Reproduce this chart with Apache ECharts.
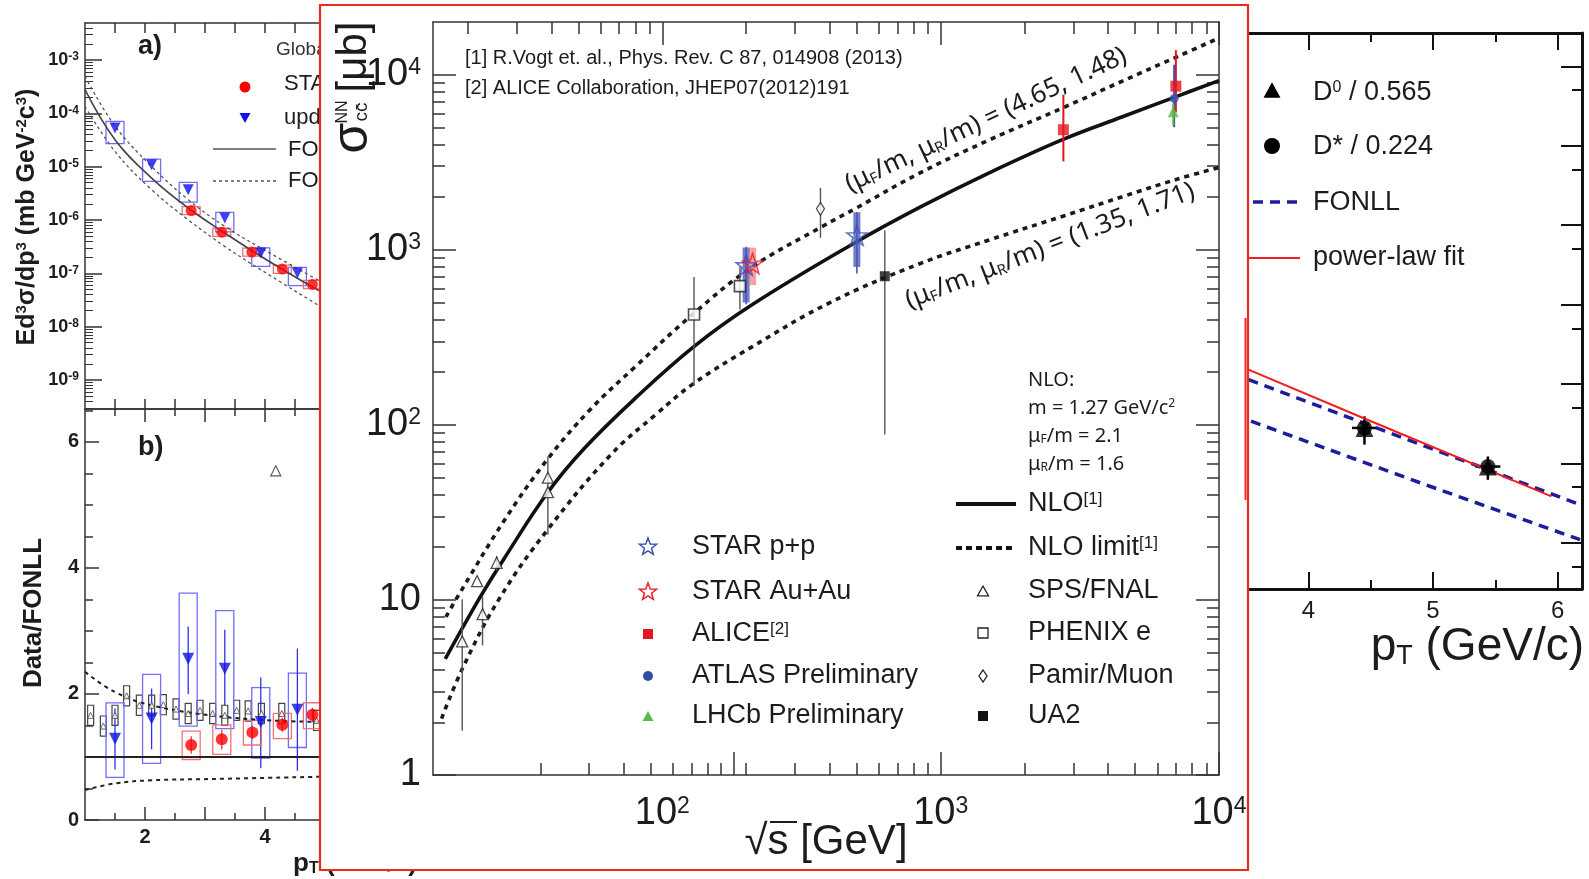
<!DOCTYPE html>
<html><head><meta charset="utf-8"><title>charm cross section</title>
<script src="https://cdn.jsdelivr.net/npm/echarts@6.0.0/dist/echarts.min.js"></script>
<style>html,body{margin:0;padding:0;background:#fff;overflow:hidden}#chart{width:1589px;height:879px}</style>
</head><body><div id="chart"></div>
<script>
// ================= MAIN CHART DATA (sqrt(s) [GeV], sigma [ub]) =================
const nloCentral = [[16.6,4.6],[22.1,10.3],[27,17.2],[38.8,41.2],[52.6,73.7],[80,142],[129.5,279],[210,485],[496,1105],[840,1746],[1500,2760],[2767,4285],[4500,5750],[7100,7550],[10000,9250]];
const nloUpper   = [[16.7,8.0],[18.3,10.3],[27,28.3],[38.8,64],[55,122],[80,215],[129.5,432],[210,796],[376,1360],[496,1726],[840,2740],[1500,4250],[2767,6500],[4500,9200],[7100,12700],[10000,16200]];
const nloLower   = [[16.1,2.1],[19.2,4.1],[25.9,10.1],[38.8,25.3],[65.6,68],[95,115],[129.5,172],[210,279],[400,499],[840,832],[1500,1140],[2767,1560],[4500,2010],[7100,2535],[10000,2950]];
// [sqrt(s), sigma, low, high]
const spsFnal   = [[19.1,5.8,1.79,10.1],[21.6,12.8,12.8,12.8],[22.6,8.3,5.5,10.4],[25.4,16.3,14.7,17.8],[38.8,49.9,49.9,49.9],[38.8,41.3,23.6,66]];
const phenixE   = [[130,427,167,700],[190,620,456,798]];
const starPP    = [[200,816,500,1030],[500,1210,798,1637]];
const starPPstat= [[200,816,489,1042],[500,1210,731,1637]];
const starAuAu  = [[211,834,628,1028]];
const pamirMuon = [[370,1714,1172,2259]];
const ua2       = [[630,706,88,1291]];
const alice     = [[2760,4850,3200,7680],[7000,8600,6095,13800]];
const atlas     = [[6900,7310,5010,11400]];
const lhcb      = [[6850,6150,5120,6800]];
// main axis ticks / labels
const xLabelValues = [100,1000,10000];
const xMajorTopTicks = [100,1000,10000];
const xMinorTopTicks = [20,30,40,50,60,70,80,90,200,300,400,500,600,700,800,900,2000,3000,4000,5000,6000,7000,8000,9000];
const xMajorBottomTicks = [180,1000,10000];
const xMinorBottomTicks = [36.5,54.5,72.8,91,108.7,127.3,145.3,162.8,200,300,400,500,600,700,800,900,2000,3000,4000,5000,6000,7000,8000,9000];
const yMajorTicks = [1,10,100,1000,10000];
const yMinorTicks = [2,3,4,5,6,7,8,9,20,30,40,50,60,70,80,90,200,300,400,500,600,700,800,900,2000,3000,4000,5000,6000,7000,8000,9000];

// ================= LEFT PANEL a) =================
const aFonll   = [[1,2.77e-4],[1.5,3.2e-5],[2.11,6.1e-6],[2.72,1.68e-6],[3.33,5.7e-7],[3.93,2.09e-7],[4.54,8.1e-8],[4.92,4.6e-8]];
const aFonllHi = [[1,4.93e-4],[1.5,5.8e-5],[2.11,1.01e-5],[2.72,2.4e-6],[3.33,7.6e-7],[3.93,3.0e-7],[4.92,7.1e-8]];
const aFonllLo = [[1,1.35e-4],[1.5,1.93e-5],[2.11,3.7e-6],[2.72,1.01e-6],[3.33,3.2e-7],[3.93,1.17e-7],[4.92,2.4e-8]];
const aBlue = [[1.5,5.3e-5,2.7e-5,7.06e-5],[2.11,1.09e-5,5.3e-6,1.39e-5],[2.72,3.7e-6,2.17e-6,5.07e-6],[3.33,1.09e-6,6.0e-7,1.39e-6],[3.93,2.4e-7,1.35e-7,2.99e-7],[4.54,1.01e-7,5.86e-8,1.29e-7]];
const aRed  = [[2.77,1.5e-6,1.26e-6,1.78e-6],[3.28,5.9e-7,4.95e-7,7.0e-7],[3.78,2.5e-7,2.1e-7,2.97e-7],[4.29,1.2e-7,1.0e-7,1.43e-7],[4.79,6.2e-8,5.2e-8,7.4e-8]];
const aXTicks = [1.5,2,2.5,3,3.5,4,4.5];
const aYLabels = [1e-9,1e-8,1e-7,1e-6,1e-5,1e-4,1e-3];

// ================= LEFT PANEL b) =================
const bUnity   = [[1,1],[4.917,1]];
const bFonllHi = [[1,2.35],[1.5,2.03],[2.11,1.82],[3.1,1.66],[4.1,1.58],[4.92,1.556]];
const bFonllLo = [[1,0.475],[1.5,0.58],[2.11,0.63],[3.1,0.65],[4.92,0.686]];
// [pT, value, boxLow, boxHigh, errLow, errHigh]
const bBlue = [[1.5,1.29,0.676,1.857,0.80,1.77],[2.11,1.61,0.897,2.31,1.12,2.085],[2.72,2.56,1.49,3.6,2.0,3.07],[3.33,2.4,1.45,3.32,1.82,3.02],[3.93,1.556,0.98,2.1,0.82,2.26],[4.54,1.75,1.15,2.33,0.78,2.72]];
const bRed  = [[2.77,1.19,0.96,1.41,1.05,1.33],[3.28,1.28,1.04,1.51,1.12,1.43],[3.79,1.39,1.19,1.58,1.28,1.5],[4.29,1.51,1.29,1.69,1.4,1.62],[4.79,1.67,1.45,1.86,1.55,1.78]];
const bGray = [[1.094,1.66,1.5,1.82],[1.306,1.49,1.33,1.65],[1.5,1.66,1.5,1.82],[1.694,1.97,1.81,2.13],[1.906,1.82,1.66,1.98],[2.111,1.82,1.66,1.98],[2.306,1.83,1.67,1.99],[2.517,1.76,1.6,1.92],[2.72,1.69,1.53,1.85],[2.917,1.74,1.58,1.9],[3.128,1.69,1.53,1.85],[3.33,1.66,1.5,1.82],[3.528,1.74,1.58,1.9],[3.72,1.73,1.57,1.89],[3.94,1.69,1.53,1.85],[4.28,1.69,1.53,1.85],[4.86,1.58,1.42,1.74]];
const bOutlier = [[4.18,5.54]];
const bXMajor = [2,3,4], bXMinor = [1.5,2.5,3.5,4.5], bXLabels = [2,4];
const bYMajor = [0,2,4,6], bYMinor = [0.5,1,1.5,2.5,3,3.5,4.5,5,5.5,6.5];

// ================= RIGHT PANEL =================
const rPowerLaw = [[3.52,1.51e-4],[4.44,3.72e-5],[5.95,3.83e-6]];
const rFonllHi  = [[3.52,1.13e-4],[5.44,8.3e-6],[6.18,3.0e-6]];
const rFonllLo  = [[3.54,3.39e-5],[4.98,5.1e-6],[6.18,1.09e-6]];
const rPoints   = [[4.45,2.79e-5,1.72e-5,3.9e-5],[5.44,9.1e-6,6.2e-6,1.22e-5]];
const rXMajor = [4,5,6], rXMinor = [4.5,5.5], rXLabels = [4,5,6];
const rYMajor = [1e-6,1e-5,1e-4,1e-3,1e-2,1e-1,1];
const rYMinor = [5e-7,5e-6,5e-5,5e-4,5e-3,5e-2,5e-1];

// ================= helpers =================
const FONT = '"Liberation Sans", Arial, Helvetica, sans-serif';
const FONT2 = '"Noto Sans", "Open Sans", sans-serif';
const RED = '#ec2a1e';
const AX = '#333';
const INK = '#1c1c1c';

function decadeMinors(e0, e1, lo, hi) {
  const out = [];
  for (let e = e0; e <= e1; e++) for (let k = 2; k <= 9; k++) { const v = k * Math.pow(10, e); if (v > lo && v < hi) out.push(v); }
  return out;
}
function pow10Label(v) {
  const e = Math.round(Math.log10(v));
  if (e === 0) return '1';
  if (e === 1) return '10';
  return '10{s|' + e + '}';
}
function axis(o) {
  return {
    gridIndex: o.grid, type: o.type || 'value', min: o.min, max: o.max, position: o.pos, logBase: 10,
    z: o.z || 0, silent: true, scale: true,
    axisLine: {show: !!o.line, onZero: false, lineStyle: {color: o.color || AX, width: o.lw || 1.5}},
    axisTick: o.ticks ? {show: true, inside: true, length: o.tlen || 10, customValues: o.ticks,
      lineStyle: {color: o.color || AX, width: o.tw || 1.5}} : {show: false},
    axisLabel: o.labels ? Object.assign({show: true, customValues: o.labels}, o.labelStyle) : {show: false},
    splitLine: {show: false}, minorTick: {show: false}, splitArea: {show: false}
  };
}
const mainLabel = (margin) => ({
  margin, fontSize: 38, fontFamily: FONT, color: INK, formatter: pow10Label,
  rich: {s: {fontSize: 23, fontFamily: FONT, color: INK, verticalAlign: 'top'}}
});

function vErr(width, color) {
  return function (p, api) {
    const x = api.value(0), a = api.coord([x, api.value(2)]), b = api.coord([x, api.value(3)]);
    return {type: 'line', shape: {x1: a[0], y1: a[1], x2: b[0], y2: b[1]}, style: {stroke: color, lineWidth: width}};
  };
}
function vErrIdx(width, color, li, hi) {
  return function (p, api) {
    const x = api.value(0), a = api.coord([x, api.value(li)]), b = api.coord([x, api.value(hi)]);
    return {type: 'line', shape: {x1: a[0], y1: a[1], x2: b[0], y2: b[1]}, style: {stroke: color, lineWidth: width}};
  };
}
function boxR(halfW, color, width, li, hi) {
  return function (p, api) {
    const x = api.value(0);
    const a = api.coord([x - halfW, api.value(hi)]), b = api.coord([x + halfW, api.value(li)]);
    return {type: 'rect', shape: {x: a[0], y: a[1], width: b[0] - a[0], height: b[1] - a[1]},
      style: {fill: 'none', stroke: color, lineWidth: width}};
  };
}
function hBar(halfW, color, width) {
  return function (p, api) {
    const x = api.value(0), y = api.value(1);
    const a = api.coord([x - halfW, y]), b = api.coord([x + halfW, y]);
    return {type: 'line', shape: {x1: a[0], y1: a[1], x2: b[0], y2: b[1]}, style: {stroke: color, lineWidth: width}};
  };
}
const custom = (xi, yi, render, data, z) => ({type: 'custom', xAxisIndex: xi, yAxisIndex: yi, renderItem: render, data, z: z || 2, silent: true, clip: true});
const line = (xi, yi, data, style, z, smooth) => ({type: 'line', xAxisIndex: xi, yAxisIndex: yi, data, showSymbol: false, symbol: 'none',
  smooth: smooth === undefined ? 0.4 : smooth, lineStyle: style, z: z || 2, silent: true, clip: true});
const scat = (xi, yi, data, symbol, size, itemStyle, z, rot) => ({type: 'scatter', xAxisIndex: xi, yAxisIndex: yi, data, symbol,
  symbolSize: size, symbolRotate: rot || 0, itemStyle, z: z || 3, silent: true, clip: false});

const STAR_PATH = 'path://M12,1 L14.7,8.8 L23,9 L16.4,14 L18.8,22 L12,17.3 L5.2,22 L7.6,14 L1,9 L9.3,8.8 Z';

// ================= graphics =================
const G = [];
function T(x, y, text, size, o) {
  o = o || {};
  return {type: 'text', x, y, rotation: o.rot || 0, z: o.z != null ? o.z : 11, silent: true,
    style: {text, fontSize: size, fontFamily: o.family || FONT, fontWeight: o.weight || 'normal', fill: o.color || INK,
      align: o.align || 'left', textAlign: o.align || 'left', verticalAlign: 'middle', textVerticalAlign: 'middle', rich: o.rich}};
}
function supRich(size, family, weight) {
  return {s: {fontSize: size, fontFamily: family || FONT, fontWeight: weight || 'normal', fill: INK, color: INK, verticalAlign: 'top'},
          sub: {fontSize: size, fontFamily: family || FONT, fontWeight: weight || 'normal', fill: INK, color: INK, verticalAlign: 'bottom'}};
}
function starPts(cx, cy, R) {
  const pts = [];
  for (let i = 0; i < 10; i++) { const a = -Math.PI / 2 + i * Math.PI / 5; const r = i % 2 ? R * 0.42 : R; pts.push([cx + r * Math.cos(a), cy + r * Math.sin(a)]); }
  return pts;
}
function tri(cx, cy, s, down) {
  const h = s * 0.9;
  return down ? [[cx - s / 2, cy - h / 2], [cx + s / 2, cy - h / 2], [cx, cy + h / 2]] : [[cx - s / 2, cy + h / 2], [cx + s / 2, cy + h / 2], [cx, cy - h / 2]];
}

// --- side-panel texts that go under the main box (z 1)
G.push(T(138, 47, 'a)', 27, {weight: 'bold', z: 1}));
G.push(T(276, 50, 'Global', 19, {z: 1, color: '#333'}));
G.push({type: 'circle', shape: {cx: 245, cy: 87, r: 5.5}, style: {fill: '#ff0000'}, z: 1});
G.push(T(284, 84, 'STAR', 22, {z: 1}));
G.push({type: 'polygon', shape: {points: tri(245, 118, 11, true)}, style: {fill: '#1010e6'}, z: 1});
G.push(T(284, 118, 'updated', 22, {z: 1}));
G.push({type: 'line', shape: {x1: 213, y1: 149, x2: 276, y2: 149}, style: {stroke: '#555', lineWidth: 1.5}, z: 1});
G.push(T(288, 150, 'FONLL', 22, {z: 1}));
G.push({type: 'line', shape: {x1: 213, y1: 181, x2: 276, y2: 181}, style: {stroke: '#555', lineWidth: 1.3, lineDash: [3, 3]}, z: 1});
G.push(T(288, 181, 'FONLL', 22, {z: 1}));
G.push(T(27, 217, 'Ed{s|3}σ/dp{s|3} (mb GeV{s|-2}c{s|3})', 25, {weight: 'bold', rot: Math.PI / 2, align: 'center', z: 1, rich: supRich(15, FONT, 'bold')}));
G.push(T(138, 448, 'b)', 27, {weight: 'bold', z: 1}));
G.push(T(34, 613, 'Data/FONLL', 26, {weight: 'bold', rot: Math.PI / 2, align: 'center', z: 1}));
G.push(T(293, 864, 'p{sub|T} (GeV/c)', 26, {weight: 'bold', z: 1, rich: supRich(16, FONT, 'bold')}));
// right panel legend (under the main box border at its left end)
G.push({type: 'polygon', shape: {points: tri(1272, 90, 17, false)}, style: {fill: '#000'}, z: 1});
G.push(T(1313, 93, 'D{s|0} / 0.565', 27, {z: 1, rich: supRich(16)}));
G.push({type: 'circle', shape: {cx: 1272, cy: 146, r: 8}, style: {fill: '#000'}, z: 1});
G.push(T(1313, 147, 'D* / 0.224', 27, {z: 1}));
G.push({type: 'line', shape: {x1: 1236, y1: 202, x2: 1300, y2: 202}, style: {stroke: '#1c1c9c', lineWidth: 3.5, lineDash: [10, 7]}, z: 1});
G.push(T(1313, 203, 'FONLL', 27, {z: 1}));
G.push({type: 'line', shape: {x1: 1236, y1: 258, x2: 1300, y2: 258}, style: {stroke: '#f21d1d', lineWidth: 2}, z: 1});
G.push(T(1313, 258, 'power-law fit', 27, {z: 1}));
G.push(T(1584, 647, 'p{sub|T} (GeV/c)', 46, {align: 'right', z: 1, rich: supRich(27)}));

// --- main box
G.push({type: 'rect', shape: {x: 320, y: 5, width: 928, height: 865}, style: {fill: '#fff', stroke: RED, lineWidth: 2.2}, z: 5, silent: true});
G.push({type: 'line', shape: {x1: 1245.5, y1: 318, x2: 1245.5, y2: 500}, style: {stroke: RED, lineWidth: 2}, z: 6});

// --- main texts
G.push(T(465, 58, '[1] R.Vogt et. al., Phys. Rev. C 87, 014908 (2013)', 20));
G.push(T(465, 88, '[2] ALICE Collaboration, JHEP07(2012)191', 20));
G.push(T(353, 138, 'σ', 50, {rot: Math.PI / 2, align: 'center'}));
G.push(T(343, 112, 'NN', 16, {rot: Math.PI / 2, align: 'center'}));
G.push(T(362, 112, 'cc\u0304', 19, {rot: Math.PI / 2, align: 'center'}));
G.push(T(354, 57, '[μb]', 42, {rot: Math.PI / 2, align: 'center'}));
G.push(T(826, 842, '√s [GeV]', 42, {align: 'center'}));
G.push({type: 'line', shape: {x1: 770, y1: 822, x2: 797, y2: 822}, style: {stroke: INK, lineWidth: 2}, z: 11});
G.push(T(986, 120, '(μ{sub|F}/m, μ{sub|R}/m) = (4.65, 1.48)', 26, {family: FONT2, rot: 0.44, align: 'center', rich: supRich(15, FONT2)}));
G.push(T(1050, 246, '(μ{sub|F}/m, μ{sub|R}/m) = (1.35, 1.71)', 26, {family: FONT2, rot: 0.37, align: 'center', rich: supRich(15, FONT2)}));
G.push(T(1028, 380, 'NLO:', 20, {family: FONT2}));
G.push(T(1028, 408, 'm = 1.27 GeV/c{s|2}', 20, {family: FONT2, rich: supRich(12, FONT2)}));
G.push(T(1028, 436, 'μ{sub|F}/m = 2.1', 20, {family: FONT2, rich: supRich(12, FONT2)}));
G.push(T(1028, 464, 'μ{sub|R}/m = 1.6', 20, {family: FONT2, rich: supRich(12, FONT2)}));
// legend left column
const LX = 648, LT = 692;
G.push({type: 'polygon', shape: {points: starPts(LX, 547, 9)}, style: {fill: 'none', stroke: '#3c50b4', lineWidth: 1.5}, z: 11});
G.push(T(LT, 547, 'STAR p+p', 27));
G.push({type: 'polygon', shape: {points: starPts(LX, 592, 9)}, style: {fill: 'none', stroke: '#e8202a', lineWidth: 1.5}, z: 11});
G.push(T(LT, 592, 'STAR Au+Au', 27));
G.push({type: 'rect', shape: {x: LX - 5, y: 629, width: 10, height: 10}, style: {fill: '#e3171f'}, z: 11});
G.push(T(LT, 634, 'ALICE{s|[2]}', 27, {rich: supRich(17)}));
G.push({type: 'circle', shape: {cx: LX, cy: 676, r: 5}, style: {fill: '#2f4fa3'}, z: 11});
G.push(T(LT, 676, 'ATLAS Preliminary', 27));
G.push({type: 'polygon', shape: {points: tri(LX, 716, 11, false)}, style: {fill: '#5cb848'}, z: 11});
G.push(T(LT, 716, 'LHCb Preliminary', 27));
// legend right column
const RX = 983, RT = 1028;
G.push({type: 'line', shape: {x1: 956, y1: 504, x2: 1016, y2: 504}, style: {stroke: '#111', lineWidth: 4}, z: 11});
G.push(T(RT, 504, 'NLO{s|[1]}', 27, {rich: supRich(17)}));
G.push({type: 'line', shape: {x1: 956, y1: 548, x2: 1016, y2: 548}, style: {stroke: '#111', lineWidth: 4, lineDash: [6, 4]}, z: 11});
G.push(T(RT, 548, 'NLO limit{s|[1]}', 27, {rich: supRich(17)}));
G.push({type: 'polygon', shape: {points: tri(RX, 591, 11, false)}, style: {fill: '#fff', stroke: '#222', lineWidth: 1.3}, z: 11});
G.push(T(RT, 591, 'SPS/FNAL', 27));
G.push({type: 'rect', shape: {x: RX - 5, y: 628, width: 10, height: 10}, style: {fill: '#fff', stroke: '#222', lineWidth: 1.3}, z: 11});
G.push(T(RT, 633, 'PHENIX e', 27));
G.push({type: 'polygon', shape: {points: [[RX, 670], [RX + 4, 676], [RX, 682], [RX - 4, 676]]}, style: {fill: '#fff', stroke: '#222', lineWidth: 1.3}, z: 11});
G.push(T(RT, 676, 'Pamir/Muon', 27));
G.push({type: 'rect', shape: {x: RX - 5, y: 711, width: 10, height: 10}, style: {fill: '#111'}, z: 11});
G.push(T(RT, 716, 'UA2', 27));

// ================= axes =================
const boldLbl = (margin, size) => ({margin, fontSize: size, fontWeight: 'bold', fontFamily: FONT, color: INK});
const xAxes = [
  axis({grid: 0, type: 'log', min: 15, max: 10000, pos: 'bottom', line: true, ticks: xMajorBottomTicks, tlen: 23, labels: xLabelValues, labelStyle: mainLabel(20), z: 10}), //0
  axis({grid: 0, type: 'log', min: 15, max: 10000, pos: 'bottom', ticks: xMinorBottomTicks, tlen: 12, z: 10}), //1
  axis({grid: 0, type: 'log', min: 15, max: 10000, pos: 'top', line: true, ticks: xMajorTopTicks, tlen: 23, z: 10}), //2
  axis({grid: 0, type: 'log', min: 15, max: 10000, pos: 'top', ticks: xMinorTopTicks, tlen: 12, z: 10}), //3
  axis({grid: 1, min: 1, max: 4.917, pos: 'bottom', line: true, ticks: aXTicks, tlen: 10}), //4
  axis({grid: 1, min: 1, max: 4.917, pos: 'top', line: true, ticks: aXTicks, tlen: 10}), //5
  axis({grid: 2, min: 1, max: 4.917, pos: 'bottom', line: true, ticks: bXMajor, tlen: 13, labels: bXLabels, labelStyle: boldLbl(7, 20)}), //6
  axis({grid: 2, min: 1, max: 4.917, pos: 'bottom', ticks: bXMinor, tlen: 7}), //7
  axis({grid: 2, min: 1, max: 4.917, pos: 'top', line: true, ticks: bXMajor, tlen: 13}), //8
  axis({grid: 2, min: 1, max: 4.917, pos: 'top', ticks: bXMinor, tlen: 7}), //9
  axis({grid: 3, min: 3.524, max: 6.195, pos: 'bottom', line: true, lw: 3, color: '#111', ticks: rXMajor, tlen: 17, tw: 2, labels: rXLabels,
        labelStyle: {margin: 10, fontSize: 24, fontFamily: FONT, color: INK}}), //10
  axis({grid: 3, min: 3.524, max: 6.195, pos: 'bottom', color: '#111', ticks: rXMinor, tlen: 9, tw: 2}), //11
  axis({grid: 3, min: 3.524, max: 6.195, pos: 'top', line: true, lw: 3, color: '#111', ticks: rXMajor, tlen: 17, tw: 2}), //12
  axis({grid: 3, min: 3.524, max: 6.195, pos: 'top', color: '#111', ticks: rXMinor, tlen: 9, tw: 2}) //13
];
const yAxes = [
  axis({grid: 0, type: 'log', min: 1, max: 20000, pos: 'left', line: true, ticks: yMajorTicks, tlen: 23, labels: yMajorTicks, labelStyle: mainLabel(12), z: 10}), //0
  axis({grid: 0, type: 'log', min: 1, max: 20000, pos: 'left', ticks: yMinorTicks, tlen: 12, z: 10}), //1
  axis({grid: 0, type: 'log', min: 1, max: 20000, pos: 'right', line: true, ticks: yMajorTicks, tlen: 23, z: 10}), //2
  axis({grid: 0, type: 'log', min: 1, max: 20000, pos: 'right', ticks: yMinorTicks, tlen: 12, z: 10}), //3
  axis({grid: 1, type: 'log', min: 2.86e-10, max: 4.94e-3, pos: 'left', line: true, ticks: aYLabels, tlen: 17, labels: aYLabels,
        labelStyle: {margin: 6, fontSize: 18, fontWeight: 'bold', fontFamily: FONT, color: INK, formatter: pow10Label,
          rich: {s: {fontSize: 12, fontWeight: 'bold', fontFamily: FONT, color: INK, verticalAlign: 'top'}}}}), //4
  axis({grid: 1, type: 'log', min: 2.86e-10, max: 4.94e-3, pos: 'left', ticks: decadeMinors(-10, -3, 2.86e-10, 4.94e-3), tlen: 8, tw: 1}), //5
  axis({grid: 2, min: 0, max: 6.52, pos: 'left', line: true, ticks: bYMajor, tlen: 14, labels: bYMajor, labelStyle: boldLbl(6, 20)}), //6
  axis({grid: 2, min: 0, max: 6.52, pos: 'left', ticks: bYMinor, tlen: 8}), //7
  axis({grid: 3, type: 'log', min: 2.61e-7, max: 2.63, pos: 'right', line: true, lw: 3, color: '#111', ticks: rYMajor, tlen: 21, tw: 2}), //8
  axis({grid: 3, type: 'log', min: 2.61e-7, max: 2.63, pos: 'right', color: '#111', ticks: rYMinor, tlen: 10, tw: 2}) //9
];

// ================= series =================
const S = [];
// ---- main
S.push(line(0, 0, nloLower, {color: '#1a1a1a', width: 3.6, type: [5, 5], cap: 'butt'}, 10));
S.push(line(0, 0, nloUpper, {color: '#1a1a1a', width: 3.6, type: [5, 5], cap: 'butt'}, 10));
S.push(line(0, 0, nloCentral, {color: '#111', width: 3.6}, 10));
S.push(custom(0, 0, vErr(1.4, '#555'), spsFnal, 11));
S.push(custom(0, 0, vErr(1.4, '#555'), phenixE, 11));
S.push(custom(0, 0, vErr(1.4, '#555'), pamirMuon, 11));
S.push(custom(0, 0, vErr(1.4, '#555'), ua2, 11));
S.push(custom(0, 0, vErr(1.6, '#4858b8'), starPPstat, 11));
S.push(custom(0, 0, vErr(7, 'rgba(72,88,185,0.78)'), starPP, 11));
S.push(custom(0, 0, vErr(7, 'rgba(240,105,105,0.62)'), starAuAu, 11));
S.push(custom(0, 0, vErr(2, '#e3171f'), alice, 11));
S.push(custom(0, 0, vErr(2, '#3a55b0'), atlas, 11));
S.push(custom(0, 0, vErr(2, '#5cb848'), lhcb, 11));
S.push(scat(0, 0, spsFnal, 'triangle', 11, {color: '#fff', borderColor: '#222', borderWidth: 1.3}, 12));
S.push(scat(0, 0, phenixE, 'rect', 11, {color: '#fff', borderColor: '#222', borderWidth: 1.6}, 12));
S.push(scat(0, 0, pamirMuon, 'diamond', [8, 13], {color: '#fff', borderColor: '#222', borderWidth: 1.3}, 12));
S.push(scat(0, 0, ua2, 'rect', 10, {color: '#111'}, 12));
S.push(scat(0, 0, starPP, STAR_PATH, 20, {color: 'rgba(0,0,0,0)', borderColor: '#4050b4', borderWidth: 1.6}, 12));
S.push(scat(0, 0, starAuAu, STAR_PATH, 20, {color: 'rgba(0,0,0,0)', borderColor: '#ee1c24', borderWidth: 1.6}, 12));
S.push(scat(0, 0, alice, 'rect', 11, {color: '#e3171f'}, 12));
S.push(scat(0, 0, atlas, 'circle', 9, {color: '#3a55b0'}, 12));
S.push(scat(0, 0, lhcb, 'triangle', 11, {color: '#5cb848'}, 12));
// ---- left a)
S.push(line(4, 4, aFonllHi, {color: '#555', width: 1.3, type: [3, 3]}));
S.push(line(4, 4, aFonllLo, {color: '#555', width: 1.3, type: [3, 3]}));
S.push(line(4, 4, aFonll, {color: '#444', width: 1.6}));
S.push(custom(4, 4, boxR(0.15, '#6f6fff', 1.3, 2, 3), aBlue));
S.push(custom(4, 4, boxR(0.15, '#f07272', 1.3, 2, 3), aRed));
S.push(scat(4, 4, aRed, 'circle', 11, {color: '#ff0000'}));
S.push(scat(4, 4, aBlue, 'triangle', 11, {color: '#1010e6'}, 3, 180));
// ---- left b)
S.push(line(6, 6, bUnity, {color: '#222', width: 2}, 2, false));
S.push(line(6, 6, bFonllHi, {color: '#222', width: 2, type: [4, 4]}));
S.push(line(6, 6, bFonllLo, {color: '#222', width: 2, type: [4, 4]}));
S.push(custom(6, 6, boxR(0.05, '#444', 1.2, 2, 3), bGray));
S.push(scat(6, 6, bGray, 'triangle', 6, {color: '#fff', borderColor: '#444', borderWidth: 1}));
S.push(scat(6, 6, bOutlier, 'triangle', 10, {color: '#fff', borderColor: '#333', borderWidth: 1.2}));
S.push(custom(6, 6, boxR(0.15, '#6f6fff', 1.3, 2, 3), bBlue));
S.push(custom(6, 6, vErrIdx(1.3, '#3030f0', 4, 5), bBlue));
S.push(custom(6, 6, boxR(0.15, '#f07272', 1.3, 2, 3), bRed));
S.push(custom(6, 6, vErrIdx(1.3, '#ff3030', 4, 5), bRed));
S.push(scat(6, 6, bRed, 'circle', 12, {color: '#ff0000'}));
S.push(scat(6, 6, bBlue, 'triangle', 12, {color: '#1010e6'}, 3, 180));
// ---- right panel
S.push(line(10, 8, rFonllHi, {color: '#1c1c9c', width: 3.5, type: [10, 7], cap: 'butt'}, 2, false));
S.push(line(10, 8, rFonllLo, {color: '#1c1c9c', width: 3.5, type: [10, 7], cap: 'butt'}, 2, false));
S.push(line(10, 8, rPowerLaw, {color: '#f21d1d', width: 2}, 2, false));
S.push(custom(10, 8, vErr(2.5, '#000'), rPoints));
S.push(custom(10, 8, hBar(0.1, '#000', 2.5), rPoints));
S.push(scat(10, 8, rPoints, 'triangle', 18, {color: '#000'}));
S.push(scat(10, 8, rPoints, 'circle', 15, {color: '#000'}));

const option = {
  animation: false,
  backgroundColor: '#fff',
  grid: [
    {left: 433, top: 22, width: 786, height: 753},
    {left: 85, top: 23, width: 235, height: 386},
    {left: 85, top: 409, width: 235, height: 411},
    {left: 1249, top: 33, width: 333, height: 556}
  ],
  xAxis: xAxes,
  yAxis: yAxes,
  series: S,
  graphic: {elements: G}
};
const chart = echarts.init(document.getElementById('chart'), null, {renderer: 'canvas', width: 1589, height: 879});
chart.setOption(option);
</script></body></html>
